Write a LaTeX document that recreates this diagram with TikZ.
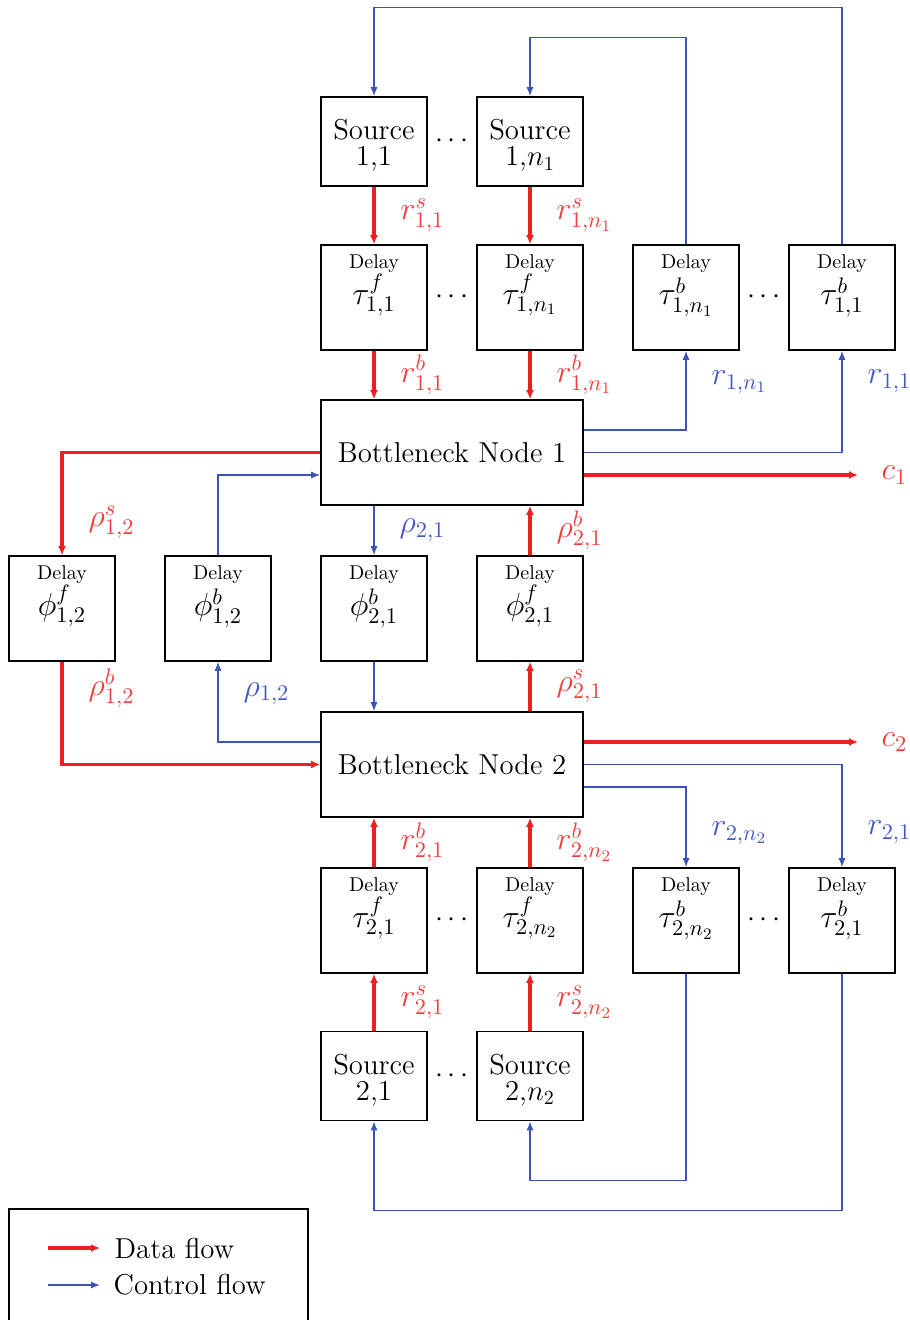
\documentclass[tikz,border=0pt]{standalone}
\usepackage{fix-cm}
\usepackage{xcolor}
\usepackage{tikz}
\usetikzlibrary{arrows.meta, positioning, calc}
\definecolor{fred}{HTML}{EE1F1F}
\definecolor{fblue}{HTML}{3B53B5}
\definecolor{tred}{HTML}{F53C3C}
\definecolor{tblue}{HTML}{4457C4}
\newcommand{\srctext}[1]{\parbox[c][44.5pt][t]{53pt}{\centering\fontsize{14.4}{13}\selectfont
  \vspace*{11.3pt}Source\\#1}}
\newcommand{\delaytext}[1]{\parbox[c][52.5pt][t]{53pt}{\centering\fontsize{16}{18}\selectfont
  \vspace*{5pt}{\fontsize{10}{18}\selectfont Delay}\\$#1$}}

\begin{document}
\begin{tikzpicture}[x=0.5pt, y=-0.5pt,
  font=\fontsize{14.4}{17}\selectfont,
  box/.style={draw, line width=0.8pt, inner sep=0pt, minimum width=53pt},
  srcbox/.style={box, minimum height=44.5pt},
  delaybox/.style={box, minimum height=52.5pt},
  bnbox/.style={box, minimum width=131pt, minimum height=52.5pt},
  data/.style={fred, line width=1.7pt, -{Latex[length=4.5pt,width=4pt]}},
  ctrl/.style={fblue, line width=0.65pt, -{Latex[length=4.5pt,width=3.5pt]}},
  dlab/.style={anchor=west, inner sep=0pt, xshift=12.5pt, text=tred, font=\fontsize{16}{18}\selectfont},
  clab/.style={anchor=west, inner sep=0pt, xshift=12.5pt, text=tblue, font=\fontsize{16}{18}\selectfont},
  olab/.style={anchor=west, inner sep=0pt, xshift=11pt, text=tred, font=\fontsize{16}{18}\selectfont}]
\useasboundingbox (0,0) rectangle (909,1320);

% bottleneck 1 side
\node[srcbox] (s11) at (374,141.5) {\srctext{1,1}};
\node[srcbox] (s1n) at (530,141.5) {\srctext{1,$n_1$}};
\node (dts1) at (452,141.5) {$\cdots$};
\node[delaybox] (tf11) at (374,297.5) {\delaytext{\tau^f_{1,1}}};
\node[delaybox] (tf1n) at (530,297.5) {\delaytext{\tau^f_{1,n_1}}};
\node[delaybox] (tb1n) at (686,297.5) {\delaytext{\tau^b_{1,n_1}}};
\node[delaybox] (tb11) at (842,297.5) {\delaytext{\tau^b_{1,1}}};
\node (dtf1) at (452,297.5) {$\cdots$};
\node (dtb1) at (764,297.5) {$\cdots$};
\node[bnbox] (bn1) at (452,452.5) {Bottleneck Node 1};

% link delays
\node[delaybox] (phf12) at (62,608.5) {\delaytext{\phi^f_{1,2}}};
\node[delaybox] (phb12) at (218,608.5) {\delaytext{\phi^b_{1,2}}};
\node[delaybox] (phb21) at (374,608.5) {\delaytext{\phi^b_{2,1}}};
\node[delaybox] (phf21) at (530,608.5) {\delaytext{\phi^f_{2,1}}};

% bottleneck 2 side
\node[bnbox] (bn2) at (452,764.5) {Bottleneck Node 2};
\node[delaybox] (tf21) at (374,920.5) {\delaytext{\tau^f_{2,1}}};
\node[delaybox] (tf2n) at (530,920.5) {\delaytext{\tau^f_{2,n_2}}};
\node[delaybox] (tb2n) at (686,920.5) {\delaytext{\tau^b_{2,n_2}}};
\node[delaybox] (tb21) at (842,920.5) {\delaytext{\tau^b_{2,1}}};
\node (dtf2) at (452,920.5) {$\cdots$};
\node (dtb2) at (764,920.5) {$\cdots$};
\node[srcbox] (s21) at (374,1076) {\srctext{2,1}};
\node[srcbox] (s2n) at (530,1076) {\srctext{2,$n_2$}};
\node (dts2) at (452,1076) {$\cdots$};

\coordinate (out1) at (858,475);
\coordinate (out2) at (858,742);

% data flow
\draw[data] (s11) -- node[dlab] {$r^s_{1,1}$} (tf11);
\draw[data] (s1n) -- node[dlab] {$r^s_{1,n_1}$} (tf1n);
\draw[data] (tf11.south) -- node[dlab] {$r^b_{1,1}$} (tf11.south |- bn1.north);
\draw[data] (tf1n.south) -- node[dlab] {$r^b_{1,n_1}$} (tf1n.south |- bn1.north);
\draw[data] ([yshift=-11.25pt]bn1.east) -- (out1) node[olab] {$c_1$};
\draw[data] (bn1.west) -| node[dlab, pos=0.84] {$\rho^s_{1,2}$} (phf12.north);
\draw[data] (phf12.south) |- node[dlab, pos=0.13] {$\rho^b_{1,2}$} (bn2.west);
\draw[data] (phf21.north) -- node[dlab] {$\rho^b_{2,1}$} (phf21.north |- bn1.south);
\draw[data] (phf21.south |- bn2.north) -- node[dlab] {$\rho^s_{2,1}$} (phf21.south);
\draw[data] ([yshift=11.25pt]bn2.east) -- (out2) node[olab] {$c_2$};
\draw[data] (tf21.north) -- node[dlab] {$r^b_{2,1}$} (tf21.north |- bn2.south);
\draw[data] (tf2n.north) -- node[dlab] {$r^b_{2,n_2}$} (tf2n.north |- bn2.south);
\draw[data] (s21) -- node[dlab] {$r^s_{2,1}$} (tf21);
\draw[data] (s2n) -- node[dlab] {$r^s_{2,n_2}$} (tf2n);

% control flow
\draw[ctrl] (tb11.north) -- ++(0,-237) -| (s11.north);
\draw[ctrl] (tb1n.north) -- ++(0,-207) -| (s1n.north);
\draw[ctrl] ([yshift=11.25pt]bn1.east) -| node[clab, pos=0.8] {$r_{1,n_1}$} (tb1n.south);
\draw[ctrl] (bn1.east) -| node[clab, pos=0.85] {$r_{1,1}$} (tb11.south);
\draw[ctrl] (phb12.north) |- ([yshift=-11.25pt]bn1.west);
\draw[ctrl] (phb21.north |- bn1.south) -- node[clab] {$\rho_{2,1}$} (phb21.north);
\draw[ctrl] (phb21.south) -- (phb21.south |- bn2.north);
\draw[ctrl] ([yshift=11.25pt]bn2.west) -| node[clab, pos=0.8] {$\rho_{1,2}$} (phb12.south);
\draw[ctrl] (bn2.east) -| node[clab, pos=0.83] {$r_{2,1}$} (tb21.north);
\draw[ctrl] ([yshift=-11.25pt]bn2.east) -| node[clab, pos=0.79] {$r_{2,n_2}$} (tb2n.north);
\draw[ctrl] (tb2n.south) -- ++(0,207) -| (s2n.south);
\draw[ctrl] (tb21.south) -- ++(0,237) -| (s21.south);

% legend
\draw[line width=0.8pt] (9,1330) -- (9,1209) -- (308,1209) -- (308,1330);
\coordinate (lg1a) at (48,1248);
\coordinate (lg1b) at (100,1248);
\coordinate (lg2a) at (48,1285);
\coordinate (lg2b) at (100,1285);
\draw[data] (lg1a) -- (lg1b) node[anchor=west, inner sep=0pt, xshift=6.5pt, text=black] {Data flow};
\draw[ctrl] (lg2a) -- (lg2b) node[anchor=west, inner sep=0pt, xshift=6.5pt, text=black] {Control flow};
\end{tikzpicture}
\end{document}
